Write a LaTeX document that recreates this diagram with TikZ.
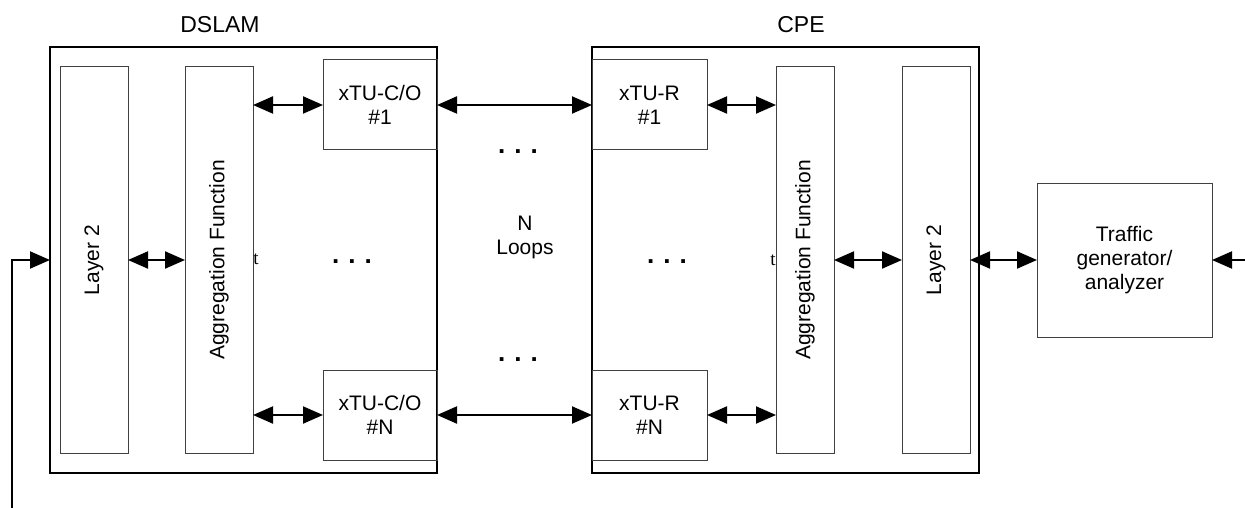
\documentclass[tikz,border=0pt]{standalone}
\usepackage{fontspec}
\setmainfont{Liberation Sans}
\newfontfamily\serifface{Liberation Serif}
\usetikzlibrary{arrows.meta}
\newcommand{\boxfont}{\fontsize{21}{24}\selectfont}
\newcommand{\titlefont}{\fontsize{23}{26}\selectfont}
\newcommand{\tridots}{\fontsize{26}{26}\selectfont\bfseries .\hspace{9pt}.\hspace{9pt}.}
\begin{document}
\begin{tikzpicture}[x=1pt,y=-1pt,
    frame/.style={draw,line width=2pt,inner sep=0pt,outer sep=0pt},
    unit/.style={draw=black!75,line width=1pt,inner sep=0pt,outer sep=0pt,align=center,font=\boxfont},
    link/.style={{Triangle[length=20pt,width=17pt]}-{Triangle[length=20pt,width=17pt]},line width=2pt},
    into/.style={-{Triangle[length=20pt,width=17pt]},line width=2pt}]
    \useasboundingbox (0,0) rectangle (1245,508);
    \node[frame,minimum width=387,minimum height=426] (dslam) at (243.5,260) {};
    \node[frame,minimum width=387,minimum height=426] (cpe) at (785.5,260) {};
    \node[font=\titlefont] (dslamlabel) at (220,25) {DSLAM};
    \node[font=\titlefont] (cpelabel) at (801,25) {CPE};
    \node[unit,minimum width=68,minimum height=386] (layerL) at (94,260) {};
    \node[unit,minimum width=68,minimum height=386] (aggL) at (219,260) {};
    \node[unit,minimum width=114,minimum height=90] (xtuc1) at (380,105) {xTU-C/O\\\#1};
    \node[unit,minimum width=114,minimum height=90] (xtucN) at (380,415) {xTU-C/O\\\#N};
    \node[unit,minimum width=115,minimum height=90] (xtur1) at (649.5,105) {xTU-R\\\#1};
    \node[unit,minimum width=115,minimum height=90] (xturN) at (649.5,415) {xTU-R\\\#N};
    \node[unit,minimum width=58,minimum height=386] (aggR) at (805,260) {};
    \node[unit,minimum width=68,minimum height=386] (layerR) at (936,260) {};
    \node[unit,minimum width=175,minimum height=154] (traffic) at (1124.5,260) {Traffic\\generator/\\analyzer};
    \node[rotate=90,font=\boxfont] at (layerL) {Layer 2};
    \node[rotate=90,font=\boxfont] at (aggL) {Aggregation Function};
    \node[rotate=90,font=\boxfont] at (aggR) {Aggregation Function};
    \node[rotate=90,font=\boxfont] at (layerR) {Layer 2};
    \node[font=\fontsize{19}{19}\selectfont\serifface] (tL) at (256,259) {t};
    \node[font=\fontsize{19}{19}\selectfont\serifface] (tR) at (773,260) {t};
    \node[font=\boxfont,align=center] (loops) at (525,237) {N\\Loops};
    \node (dotsT) at (518,152) {\tridots};
    \node (dotsB) at (518,360) {\tridots};
    \node (dotsL) at (352,262) {\tridots};
    \node (dotsR) at (667,262) {\tridots};
    \coordinate (fb) at (12,508);
    \coordinate (ext) at (1245,260);
    \draw[into] (fb) |- (dslam.west);
    \draw[link] (layerL.east) -- (aggL.west);
    \draw[link] (aggL.east |- xtuc1.west) -- (xtuc1.west);
    \draw[link] (aggL.east |- xtucN.west) -- (xtucN.west);
    \draw[link] (xtuc1.east) -- (xtur1.west);
    \draw[link] (xtucN.east) -- (xturN.west);
    \draw[link] (xtur1.east) -- (aggR.west |- xtur1.east);
    \draw[link] (xturN.east) -- (aggR.west |- xturN.east);
    \draw[link] (aggR.east) -- (layerR.west);
    \draw[link] (layerR.east) -- (traffic.west);
    \draw[into] (ext) -- (traffic.east);
\end{tikzpicture}
\end{document}
